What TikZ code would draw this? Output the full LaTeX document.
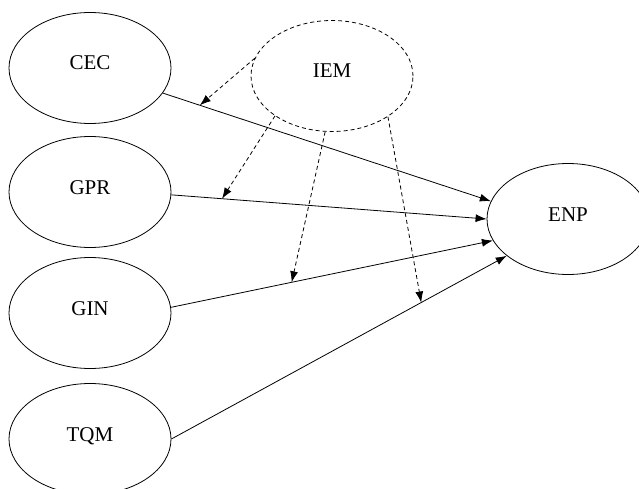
\documentclass[tikz,border=0pt]{standalone}
\usepackage{fontspec}
\setmainfont{Liberation Serif}
\usetikzlibrary{shapes.geometric,arrows.meta}
\begin{document}
\begin{tikzpicture}[x=1pt, y=-1pt,
    construct/.style = {ellipse, draw, line width=0.8pt, minimum width=162pt,
        minimum height=111pt, inner sep=0pt, text height=15pt, text depth=11pt,
        font=\fontsize{21}{24}\selectfont},
    moderator/.style = {construct, dash pattern=on 4pt off 3pt},
    effect/.style = {line width=0.8pt, -{Latex[length=11pt,width=8pt]}},
    moderation/.style = {effect, dash pattern=on 4pt off 3pt}]
    \useasboundingbox (0,0) rectangle (639,489);

    % constructs
    \node [construct] (CEC) at (90,68) {CEC};
    \node [construct] (GPR) at (90,192) {GPR};
    \node [construct] (GIN) at (90,313) {GIN};
    \node [construct] (TQM) at (90,439) {TQM};
    \node [construct] (ENP) at (568,219) {ENP};
    \node [moderator] (IEM) at (332,76) {IEM};

    % direct effects
    \draw [effect] (CEC.341) -- coordinate [pos=0.113] (mCEC) (ENP.167);
    \draw [effect] (GPR.358) -- coordinate [pos=0.161] (mGPR) (ENP.180);
    \draw [effect] (GIN.4) -- coordinate [pos=0.375] (mGIN) (ENP.196);
    \draw [effect] (TQM.east) -- coordinate [pos=0.745] (mTQM) (ENP.211);

    % moderating effects
    \draw [moderation] (IEM.167) -- (mCEC);
    \draw [moderation] (IEM.215) -- (mGPR);
    \draw [moderation] (IEM.263) -- (mGIN);
    \draw [moderation] (IEM.324) -- (mTQM);
\end{tikzpicture}
\end{document}
